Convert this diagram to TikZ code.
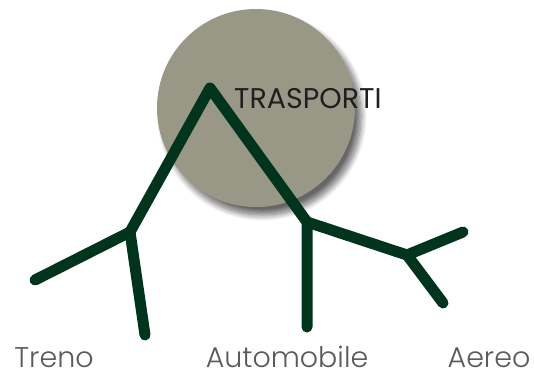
\documentclass[tikz,border=0pt]{standalone}
\usepackage{fontspec}
\setmainfont{Poppins}[UprightFont=* Light]
\newfontfamily\titlefont{Poppins}
\usetikzlibrary{shadows.blur}
\definecolor{circ}{HTML}{999887}
\definecolor{tree}{HTML}{00341C}
\definecolor{lab}{HTML}{5A5A5A}
\tikzset{
  branch/.style={draw=tree, line width=11pt, line cap=round, line join=round},
  leaf/.style={text=lab, font=\fontsize{28.5}{28.5}\selectfont, anchor=base, inner sep=0pt},
}
\begin{document}
\begin{tikzpicture}[x=1pt,y=-1pt]
\useasboundingbox (0,0) rectangle (534,376);
\fill[circ, blur shadow={shadow xshift=6pt, shadow yshift=-8pt, shadow blur steps=12, shadow blur radius=6pt, shadow opacity=60}] (256,108) circle (99);
\coordinate (apex) at (210,88);
\coordinate (lj) at (130,232);
\coordinate (tl) at (35,280);
\coordinate (td) at (145,335);
\coordinate (rj) at (307,222);
\coordinate (ad) at (307,327);
\coordinate (aj) at (407,255);
\coordinate (au) at (463,232);
\coordinate (al) at (443,303);
\path[branch] (tl) -- (lj) -- (apex) -- (rj) -- (ad);
\path[branch] (lj) -- (td);
\path[branch] (rj) -- (aj) -- (au);
\path[branch] (aj) -- (al);
\node[anchor=base west, inner sep=0pt, text=black!88, font=\titlefont\fontsize{28.5}{28.5}\selectfont] (title) at (234,108) {TRASPORTI};
\node[leaf] (treno) at (54,367) {Treno};
\node[leaf] (auto) at (287,367) {Automobile};
\node[leaf] (aereo) at (489,367) {Aereo};
\end{tikzpicture}
\end{document}
